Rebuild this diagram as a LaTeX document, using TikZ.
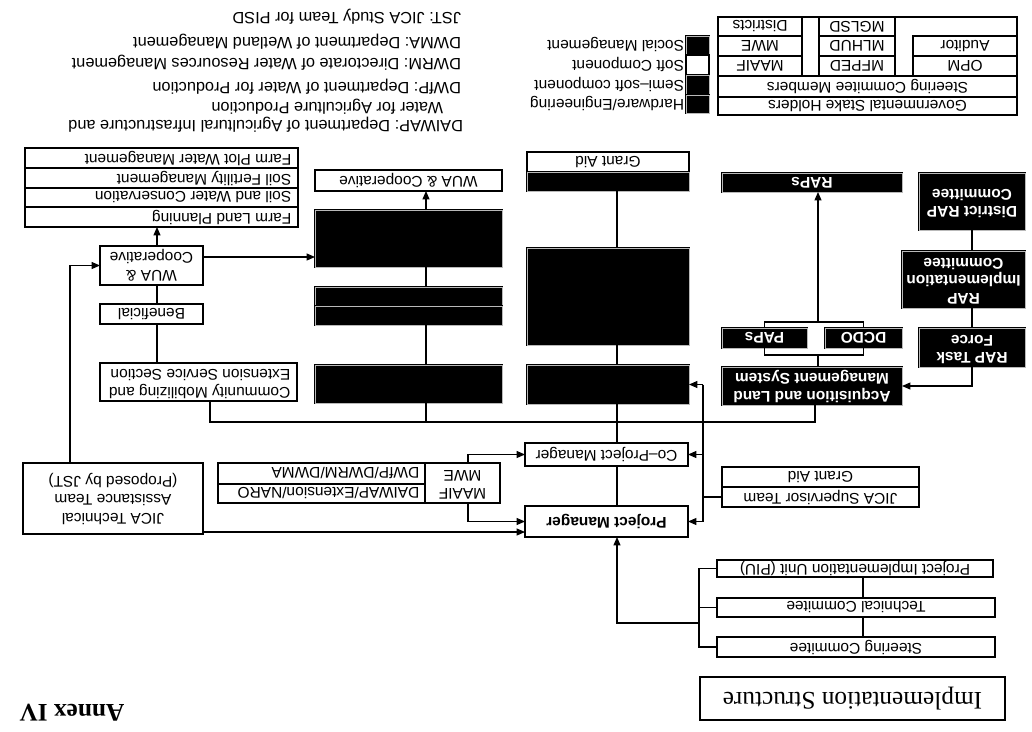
\documentclass[tikz,border=0pt]{standalone}
\usepackage{fontspec}
\setmainfont{Liberation Sans}
\newfontfamily\ser{Liberation Serif}
\usepackage{graphicx}
\usetikzlibrary{arrows.meta,calc}
\newcommand\R[1]{\rotatebox[origin=c]{180}{#1}}
\newcommand\RC[1]{\R{\begin{tabular}{@{}c@{}}#1\end{tabular}}}
\newcommand\RL[2]{\R{\makebox[#1][l]{\hspace{3pt}#2}}}
\newcommand\RLL[2]{\R{\makebox[#1][l]{\hspace{3pt}\begin{tabular}{@{}l@{}}#2\end{tabular}}}}
\newcommand\bx[7]{\node[#6, minimum width={(#4-#2)*0.025cm}, minimum height={(#5-#3)*0.025cm}] (#1) at ({(#2+#4)/2},{(#3+#5)/2}) {#7};}
\begin{document}
\begin{tikzpicture}[x=0.025cm,y=-0.025cm, font=\fontsize{11}{13}\selectfont,
  box/.style={draw=black, line width=0.8pt, inner sep=0pt, outer sep=0pt, fill=white},
  blk/.style={draw=black, line width=0.5pt, double=gray!55, double distance=0.5pt, fill=black, inner sep=0pt, outer sep=0pt, text=white, font=\fontsize{11}{12.5}\selectfont\bfseries},
  con/.style={line width=0.8pt},
  arr/.style={con, -{Triangle[length=6pt,width=5pt]}},
  lab/.style={inner sep=0pt, outer sep=0pt},
  abbr/.style={lab, anchor=east, font=\fontsize{11.6}{13}\selectfont}]
\useasboundingbox (0,0) rectangle (1032,731);

% abbreviations
\node[abbr] (abJ) at (461,17) {\R{JST: JICA Study Team for PISD}};
\node[abbr] (abM) at (461,42) {\R{DWMA: Department of Wetland Management}};
\node[abbr] (abR) at (461,63) {\R{DWRM: Directorate of Water Resources Management}};
\node[abbr] (abP) at (461,87) {\R{DWfP: Department of Water for Production}};
\node[abbr] (abW) at (443,107) {\R{Water for Agriculture Production}};
\node[abbr] (abD) at (463,125) {\R{DAIWAP: Department of Agricultural Infrastructure and}};

% governmental table
\bx{gov}{718}{17}{1017}{115}{box}{}
\bx{gsh}{718}{97}{1017}{115}{box}{\R{Governmental Stake Holders}}
\bx{scm}{718}{76}{1017}{97}{box}{\R{Steering Commitee Members}}
\bx{maaifg}{718}{56}{802}{76}{box}{\R{MAAIF}}
\bx{mweg}{718}{36}{802}{56}{box}{\R{MWE}}
\bx{dist}{718}{17}{802}{36}{box}{\R{Districts}}
\bx{mfped}{819}{56}{895}{76}{box}{\R{MFPED}}
\bx{mlhud}{819}{36}{895}{56}{box}{\R{MLHUD}}
\bx{mglsd}{819}{17}{895}{36}{box}{\R{MGLSD}}
\bx{opm}{913}{56}{1017}{76}{box}{\R{OPM}}
\bx{aud}{913}{36}{1017}{56}{box}{\R{Auditor}}

% legend
\bx{swS}{686}{36}{709}{55}{blk}{}
\bx{swF}{686}{55}{709}{75}{box}{}
\bx{swM}{686}{75}{709}{95}{blk}{}
\bx{swH}{686}{95}{709}{113}{blk}{}
\node[lab, anchor=east] (lS) at (684,44) {\R{Social Management}};
\node[lab, anchor=east] (lF) at (684,64) {\R{Soft Component}};
\node[lab, anchor=east] (lM) at (684,84) {\R{Semi–soft component}};
\node[lab, anchor=east] (lH) at (684,103) {\R{Hardware/Engineering}};

% farm stack
\bx{fpwm}{25}{148}{298}{168}{box}{\RL{6.7cm}{Farm Plot Water Management}}
\bx{sfm}{25}{168}{298}{188}{box}{\RL{6.7cm}{Soil Fertility Management}}
\bx{swc}{25}{188}{298}{207}{box}{\RL{6.7cm}{Soil and Water Conservation}}
\bx{flp}{25}{207}{298}{227}{box}{\RL{6.7cm}{Farm Land Planning}}

% column 1
\bx{wuaL}{100}{246}{203}{285}{box}{\RC{WUA \&\\Cooperative}}
\bx{benef}{100}{304}{203}{324}{box}{\R{Beneficial}}
\bx{comm}{100}{363}{297}{401}{box}{\RLL{4.8cm}{Community Mobilizing and\\Extension Service Section}}
\bx{jicaT}{23}{463}{203}{534}{box}{\RC{JICA Technical\\Assistance Team\\(Proposed by JST)}}

% column 2
\bx{wuaC2}{315}{170}{502}{191}{box}{\R{WUA \& Cooperative}}
\bx{mob}{315}{210}{502}{267}{blk}{}
\bx{b2a}{315}{287}{502}{306}{blk}{}
\bx{b2b}{315}{306}{502}{325}{blk}{}
\bx{b2bot}{315}{365}{502}{403}{blk}{}

% column 3
\bx{grant3}{527}{152}{689}{172}{box}{\R{Grant Aid}}
\bx{b3top}{527}{172}{689}{191}{blk}{}
\bx{b3big}{527}{248}{689}{345}{blk}{}
\bx{b3bot}{527}{365}{689}{404}{blk}{}

% RAP part
\bx{rap}{722}{173}{902}{192}{blk}{\R{RAPs}}
\bx{pap}{722}{328}{807}{348}{blk}{\R{PAPs}}
\bx{dcdo}{825}{328}{902}{348}{blk}{\R{DCDO}}
\bx{admin}{722}{367}{902}{405}{blk}{\RC{Acquisition and Land\\Management System}}
\bx{drc}{919}{173}{1025}{230}{blk}{\RC{District RAP\\Committee}}
\bx{ric}{902}{251}{1025}{308}{blk}{\RC{RAP\\Implementation\\Committee}}
\bx{rtf}{919}{328}{1025}{367}{blk}{\RC{RAP Task\\Force}}

% managers
\bx{copm}{525}{443}{688}{466}{box}{\R{Co–Project Manager}}
\bx{pm}{525}{506}{688}{537}{box}{\R{\bfseries Project Manager}}
\bx{lbl}{425}{463}{500}{503}{box}{\RC{MAAIF\\MWE}}
\bx{r1}{218}{463}{425}{484}{box}{\RL{5.1cm}{DWfP/DWRM/DWMA}}
\bx{r2}{218}{484}{425}{503}{box}{\RL{5.1cm}{DAIWAP/Extension/NARO}}
\bx{jstA}{722}{467}{919}{487}{box}{\R{Grant Aid}}
\bx{jstB}{722}{487}{919}{507}{box}{\R{JICA Supervisor Team}}

% committees
\bx{piu}{717}{560}{993}{577}{box}{\R{Project Implementation Unit (PIU)}}
\bx{tech}{717}{598}{995}{617}{box}{\R{Technical Commitee}}
\bx{steer}{717}{637}{995}{657}{box}{\R{Steering Commitee}}
\bx{title}{700}{677}{1005}{720}{box}{\R{\ser\fontsize{18}{22}\selectfont Implementation Structure}}
\node[lab] (annex) at (72,713) {\R{\ser\bfseries\fontsize{18}{22}\selectfont Annex IV}};

% coordinates
\coordinate (c1x) at (157,0);
\coordinate (c2x) at (426,0);
\coordinate (c3x) at (617,0);
\coordinate (vx) at (703,0);
\coordinate (busL) at (210,422);
\coordinate (busR) at (815,422);
\coordinate (jx) at (70,0);
\coordinate (bx) at (699,623);
\coordinate (cx) at (863,0);
\coordinate (ub) at (818,322);
\coordinate (lb) at (818,355);
\coordinate (tx) at (468,0);
\coordinate (wy) at (0,257);
\coordinate (jy) at (0,532);

% connectors
\draw[arr] (wuaL.north -| c1x) -- (flp.south -| c1x);
\draw[con] (benef.north -| c1x) -- (wuaL.south -| c1x);
\draw[con] (comm.north -| c1x) -- (benef.south -| c1x);
\draw[arr] (wuaL.east |- wy) -- (mob.west |- wy);
\draw[arr] (jicaT.north -| jx) |- (wuaL.west);
\draw[arr] (jicaT.east |- jy) -- (pm.west |- jy);
\draw[arr] (lbl.north -| tx) |- (copm.west);
\draw[arr] (lbl.south -| tx) |- (pm.west);
\draw[con] (comm.south -| busL) -- (busL) -- (busR) -- (admin.south -| busR);
\draw[con] (b2bot.south -| c2x) -- (busL -| c2x);
\draw[arr] (mob.north -| c2x) -- (wuaC2.south -| c2x);
\draw[con] (b2a.north -| c2x) -- (mob.south -| c2x);
\draw[con] (b2bot.north -| c2x) -- (b2b.south -| c2x);
\draw[con] (b3top.south -| c3x) -- (b3big.north -| c3x);
\draw[con] (b3big.south -| c3x) -- (b3bot.north -| c3x);
\draw[con] (b3bot.south -| c3x) -- (copm.north -| c3x);
\draw[con] (copm.south -| c3x) -- (pm.north -| c3x);
\draw[arr] (bx) -| (pm.south -| c3x);
\draw[con] (piu.west) -- (piu.west -| bx) -- (steer.west -| bx) -- (steer.west);
\draw[con] (tech.west) -- (tech.west -| bx);
\draw[con] (piu.south -| cx) -- (tech.north -| cx);
\draw[con] (tech.south -| cx) -- (steer.north -| cx);
\draw[con] (vx |- b3bot.east) -- (vx |- pm.east);
\draw[arr] (vx |- b3bot.east) -- (b3bot.east);
\draw[arr] (vx |- copm.east) -- (copm.east);
\draw[arr] (vx |- pm.east) -- (pm.east);
\draw[con] (jstB.west) -- (vx |- jstB.west);
\draw[con] (drc.south) -- (ric.north -| drc.south);
\draw[con] (ric.south -| drc.south) -- (rtf.north -| drc.south);
\draw[arr] (rtf.south) |- (admin.east);
\draw[con] (pap.south) |- (lb) -| (dcdo.south);
\draw[con] (admin.north -| lb) -- (lb);
\draw[con] (pap.north) |- (ub) -| (dcdo.north);
\draw[arr] (ub) -- (rap.south -| ub);
\end{tikzpicture}
\end{document}
